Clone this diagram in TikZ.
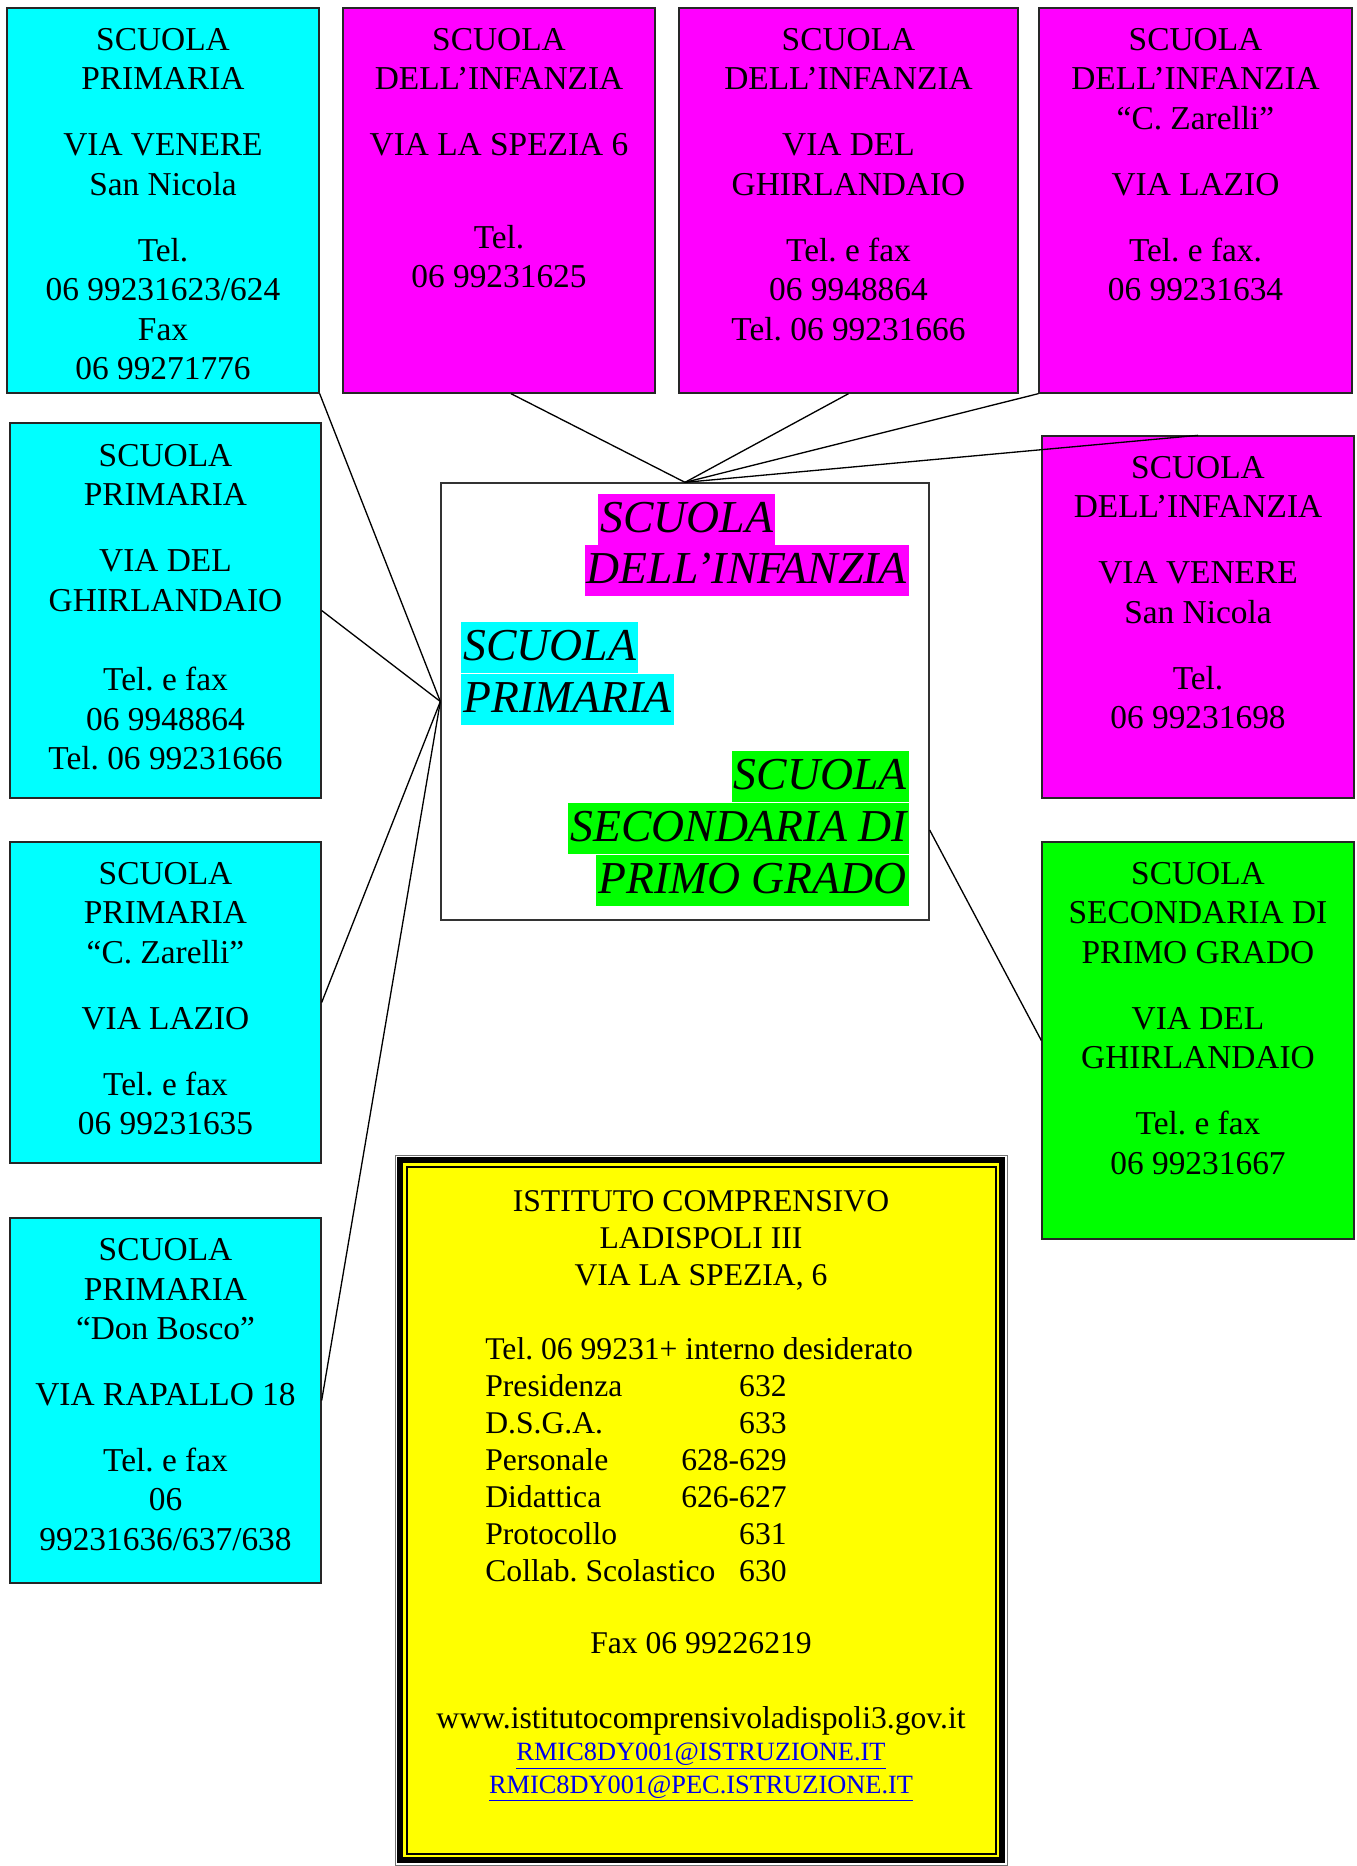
\documentclass[tikz,border=0pt]{standalone}
\usepackage{fontspec}
\setmainfont{Liberation Serif}
\usetikzlibrary{calc,fit}
\frenchspacing
\definecolor{cyanc}{RGB}{0,255,255}
\definecolor{pinkc}{RGB}{255,0,255}
\definecolor{greenc}{RGB}{0,255,0}
\definecolor{yellowc}{RGB}{255,255,0}
\definecolor{linkblue}{RGB}{0,0,235}
\tikzset{
  sbox/.style={draw=black!85, line width=0.75pt, inner sep=0pt},
  btxt/.style={align=center, inner sep=0pt, anchor=north, font=\fontsize{19}{22.5}\selectfont},
  hl/.style={inner xsep=1.2pt, inner ysep=0pt, text height=22.2pt, text depth=6.8pt, font=\fontsize{26}{29}\selectfont\itshape},
  conn/.style={line width=0.75pt, black},
  ytxt/.style={inner sep=0pt, font=\fontsize{18}{21}\selectfont},
  lnk/.style={inner sep=0pt, font=\fontsize{15}{18}\selectfont, text=linkblue},
}
\begin{document}
\begin{tikzpicture}[x=0.02cm, y=-0.02cm]
\useasboundingbox (0,0) rectangle (1356,1866);
% boxes
\node[sbox, fill=cyanc, fit={(7,8)(319,393)}] (A) {};
\node[sbox, fill=pinkc, fit={(343,8)(655,393)}] (B) {};
\node[sbox, fill=pinkc, fit={(679,8)(1018,393)}] (C) {};
\node[sbox, fill=pinkc, fit={(1039,8)(1352,393)}] (D) {};
\node[sbox, fill=pinkc, fit={(1042,436)(1354,798)}] (E) {};
\node[sbox, fill=cyanc, fit={(10,423)(321,798)}] (F) {};
\node[sbox, fill=cyanc, fit={(10,842)(321,1163)}] (G) {};
\node[sbox, fill=cyanc, fit={(10,1218)(321,1583)}] (H) {};
\node[sbox, fill=greenc, fit={(1042,842)(1354,1239)}] (I) {};
\node[sbox, draw=black!80, fit={(441,483)(929,920)}] (M) {};
% box texts
\node[btxt] (At) at (163,28) {SCUOLA\\PRIMARIA\\[15pt]VIA VENERE\\San Nicola\\[15pt]Tel.\\06 99231623/624\\Fax\\06 99271776};
\node[btxt] (Bt) at (499,28) {SCUOLA\\DELL’INFANZIA\\[15pt]VIA LA SPEZIA 6\\[30pt]Tel.\\06 99231625};
\node[btxt] (Ct) at (848.5,28) {SCUOLA\\DELL’INFANZIA\\[15pt]VIA DEL\\GHIRLANDAIO\\[15pt]Tel. e fax\\06 9948864\\Tel. 06 99231666};
\node[btxt] (Dt) at (1195.5,28) {SCUOLA\\DELL’INFANZIA\\“C. Zarelli”\\[15pt]VIA LAZIO\\[15pt]Tel. e fax.\\06 99231634};
\node[btxt] (Et) at (1198,456) {SCUOLA\\DELL’INFANZIA\\[15pt]VIA VENERE\\San Nicola\\[15pt]Tel.\\06 99231698};
\node[btxt] (Ft) at (165.5,444) {SCUOLA\\PRIMARIA\\[15pt]VIA DEL\\GHIRLANDAIO\\[22.7pt]Tel. e fax\\06 9948864\\Tel. 06 99231666};
\node[btxt] (Gt) at (165.5,862) {SCUOLA\\PRIMARIA\\“C. Zarelli”\\[15pt]VIA LAZIO\\[15pt]Tel. e fax\\06 99231635};
\node[btxt] (Ht) at (165.5,1238) {SCUOLA\\PRIMARIA\\“Don Bosco”\\[15pt]VIA RAPALLO 18\\[15pt]Tel. e fax\\06\\99231636/637/638};
\node[btxt] (It) at (1198,862) {SCUOLA\\SECONDARIA DI\\PRIMO GRADO\\[15pt]VIA DEL\\GHIRLANDAIO\\[15pt]Tel. e fax\\06 99231667};
% centre highlighted texts
\node[hl, fill=pinkc, anchor=south west] (p1) at (598,545) {SCUOLA};
\node[hl, fill=pinkc, anchor=south east] (p2) at (909,596) {DELL’INFANZIA};
\node[hl, fill=cyanc, anchor=south west] (c1) at (461,673) {SCUOLA};
\node[hl, fill=cyanc, anchor=south west] (c2) at (461,725) {PRIMARIA};
\node[hl, fill=greenc, anchor=south east] (g1) at (909,802) {SCUOLA};
\node[hl, fill=greenc, anchor=south east] (g2) at (909,854) {SECONDARIA DI};
\node[hl, fill=greenc, anchor=south east] (g3) at (909,906) {PRIMO GRADO};
% connectors
\coordinate (Bs) at ($(B.south)+(12,0)$);
\coordinate (Me) at ($(M.east)+(0,128.5)$);
\draw[conn] (A.south east) -- (M.west);
\draw[conn] (Bs) -- (M.north);
\draw[conn] (C.south) -- (M.north);
\draw[conn] (D.south west) -- (M.north);
\draw[conn] (E.north) -- (M.north);
\draw[conn] (F.east) -- (M.west);
\draw[conn] (G.east) -- (M.west);
\draw[conn] (H.east) -- (M.west);
\draw[conn] (Me) -- (I.west);
% yellow info box
\node[inner sep=0pt, draw=black!55, line width=0.57pt, fit={(395,1155)(1007,1865)}] (Y) {};
\fill[yellowc] ($(Y.north west)+(8.5,8.5)$) rectangle ($(Y.south east)+(-8.5,-8.5)$);
\draw[black, line width=3.4pt] ($(Y.north west)+(5.5,5.5)$) rectangle ($(Y.south east)+(-5.5,-5.5)$);
\draw[black, line width=1.14pt] ($(Y.north west)+(12,12)$) rectangle ($(Y.south east)+(-12,-12)$);
\node[ytxt, align=center, anchor=north] (Y1) at (701,1190) {ISTITUTO COMPRENSIVO\\LADISPOLI III\\VIA LA SPEZIA, 6};
\node[ytxt, align=left, anchor=north west] (Y2) at (485,1337.5) {Tel. 06 99231+ interno desiderato\\
\makebox[111.5pt][l]{Presidenza}\makebox[60pt][r]{632}\\
\makebox[111.5pt][l]{D.S.G.A.}\makebox[60pt][r]{633}\\
\makebox[111.5pt][l]{Personale}\makebox[60pt][r]{628-629}\\
\makebox[111.5pt][l]{Didattica}\makebox[60pt][r]{626-627}\\
\makebox[111.5pt][l]{Protocollo}\makebox[60pt][r]{631}\\
\makebox[111.5pt][l]{Collab. Scolastico}\makebox[60pt][r]{630}};
\node[ytxt, anchor=base] (Y3) at (701,1653.5) {Fax 06 99226219};
\node[ytxt, anchor=base] (Y4) at (701,1728) {www.istitutocomprensivoladispoli3.gov.it};
\node[lnk, anchor=base] (Y5) at (701,1760.5) {\underline{RMIC8DY001@ISTRUZIONE.IT}};
\node[lnk, anchor=base] (Y6) at (701,1793) {\underline{RMIC8DY001@PEC.ISTRUZIONE.IT}};
\end{tikzpicture}
\end{document}
